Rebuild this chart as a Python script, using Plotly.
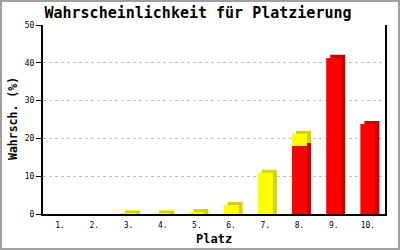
import plotly.graph_objects as go

places = [1, 2, 3, 4, 5, 6, 7, 8, 9, 10]
tick_labels = ["1.", "2.", "3.", "4.", "5.", "6.", "7.", "8.", "9.", "10."]
yellow_vals = [None, None, 0.15, 0.15, 0.5, 2.4, 10.9, 3.2, None, None]
red_vals = [None, None, None, None, None, None, None, 18.0, 41.3, 23.8]

DEPTH_Y = 0.8      # 3D depth in data units (vertical)
W = 0.44           # bar width
DX = 0.117         # 3D depth (horizontal)

def base_of_yellow(i):
    return red_vals[i] if red_vals[i] is not None else 0

fig = go.Figure()

# shadows (side/top faces)
red_sh_y = [None if v is None else v + DEPTH_Y for v in red_vals]
fig.add_trace(go.Bar(x=places, y=red_sh_y, base=[0]*10, width=W, offset=-W/2 + DX,
                     marker=dict(color="#cc0000", line=dict(width=0)), hoverinfo="skip"))
yel_sh_base = [base_of_yellow(i) + (DEPTH_Y if red_vals[i] is not None else 0) for i in range(10)]
yel_sh_y = [None if v is None else v + (0 if red_vals[i] is not None else DEPTH_Y) for i, v in enumerate(yellow_vals)]
fig.add_trace(go.Bar(x=places, y=yel_sh_y, base=yel_sh_base, width=W, offset=-W/2 + DX,
                     marker=dict(color="#d4d400", line=dict(width=0)), hoverinfo="skip"))
# fronts
fig.add_trace(go.Bar(x=places, y=red_vals, base=[0]*10, width=W, offset=-W/2,
                     marker=dict(color="#ff0000", line=dict(width=0))))
fig.add_trace(go.Bar(x=places, y=yellow_vals, base=[base_of_yellow(i) for i in range(10)],
                     width=W, offset=-W/2, marker=dict(color="#ffff00", line=dict(width=0))))

mono = "DejaVu Sans Mono"
fig.update_layout(
    width=400, height=250,
    margin=dict(l=43, r=15, t=25, b=36),
    paper_bgcolor="white", plot_bgcolor="white",
    barmode="overlay", showlegend=False,
    title=dict(text="<b>Wahrscheinlichkeit für Platzierung</b>", x=0.495, xanchor="center",
               y=1 - 13/250, yanchor="middle", font=dict(family=mono, size=15, color="black")),
    xaxis=dict(range=[0.5, 10.5], tickvals=places, ticktext=tick_labels, showgrid=False,
               showline=True, linecolor="black", linewidth=2, ticks="", zeroline=False,
               automargin=False,
               tickfont=dict(family=mono, size=8, color="black"), ticklabelstandoff=2),
    yaxis=dict(range=[0, 50], tickvals=[0, 10, 20, 30, 40, 50], showgrid=True,
               gridcolor="#c0c0c0", griddash="dot", gridwidth=1,
               showline=True, linecolor="black", linewidth=2, mirror=True,
               ticks="outside", ticklen=5, tickcolor="black", tickwidth=1, zeroline=False,
               automargin=False,
               tickfont=dict(family=mono, size=8, color="black")),
    annotations=[
        dict(text="<b>Platz</b>", xref="paper", yref="paper", x=0.5, y=-(239 - 214) / 189,
             xanchor="center", yanchor="middle", showarrow=False,
             font=dict(family=mono, size=12, color="black")),
        dict(text="<b>Wahrsch. (%)</b>", xref="paper", yref="paper", x=-(43 - 13) / 342, y=(214 - 119) / 189,
             xanchor="center", yanchor="middle", showarrow=False, textangle=-90,
             font=dict(family=mono, size=11.5, color="black")),
    ],
    shapes=[dict(type="rect", xref="paper", yref="paper", x0=-42/342, x1=1 + 14/342,
                 y0=-35/189, y1=1 + 24/189, line=dict(color="#a0a0a0", width=2))],
)
fig.write_html("out.html")
